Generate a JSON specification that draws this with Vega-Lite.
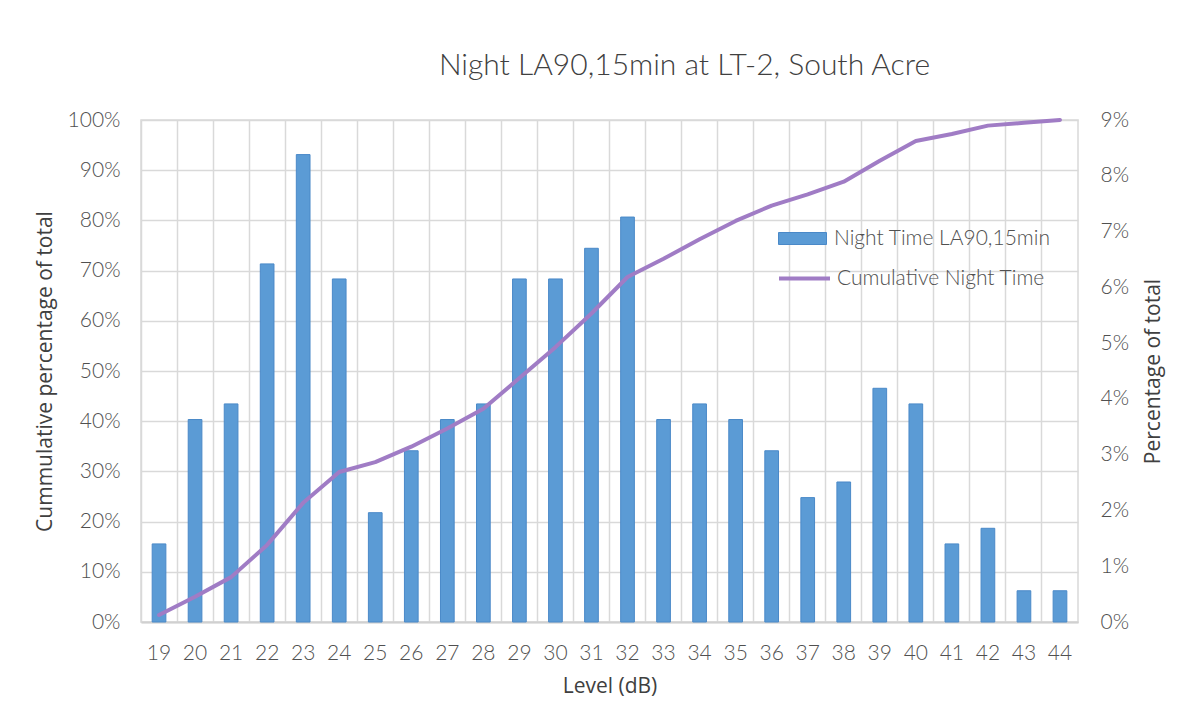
{
  "$schema": "https://vega.github.io/schema/vega-lite/v6.json",
  "autosize": {"type": "none"},
  "width": 937,
  "height": 502,
  "padding": {"left": 141, "top": 120, "right": 124, "bottom": 82},
  "background": "white",
  "title": {
    "text": "Night LA90,15min at LT-2, South Acre",
    "font": "Lato",
    "fontSize": 30,
    "fontWeight": 300,
    "color": "#404040",
    "anchor": "middle",
    "dx": 75,
    "baseline": "alphabetic",
    "offset": 4
  },
  "config": {
    "view": {"stroke": "#d9d9d9", "strokeWidth": 1.5},
    "axis": {
      "labelFont": "Lato",
      "labelFontWeight": 300,
      "labelFontSize": 21,
      "labelColor": "#505050",
      "titleFont": "Open Sans",
      "titleFontWeight": "normal",
      "titleFontSize": 21,
      "titleColor": "#404040",
      "gridColor": "#d9d9d9",
      "gridWidth": 1.5,
      "ticks": false
    },
    "legend": {
      "labelFont": "Lato",
      "labelFontWeight": 300,
      "labelFontSize": 21,
      "labelColor": "#505050",
      "labelLimit": 400,
      "padding": 0
    }
  },
  "data": {
    "values": [
      {"level": 19, "pct": 1.40, "cum": 1.40},
      {"level": 20, "pct": 3.63, "cum": 5.03},
      {"level": 21, "pct": 3.91, "cum": 8.94},
      {"level": 22, "pct": 6.42, "cum": 15.36},
      {"level": 23, "pct": 8.38, "cum": 23.74},
      {"level": 24, "pct": 6.15, "cum": 29.89},
      {"level": 25, "pct": 1.96, "cum": 31.84},
      {"level": 26, "pct": 3.07, "cum": 34.92},
      {"level": 27, "pct": 3.63, "cum": 38.55},
      {"level": 28, "pct": 3.91, "cum": 42.46},
      {"level": 29, "pct": 6.15, "cum": 48.60},
      {"level": 30, "pct": 6.15, "cum": 54.75},
      {"level": 31, "pct": 6.70, "cum": 61.45},
      {"level": 32, "pct": 7.26, "cum": 68.72},
      {"level": 33, "pct": 3.63, "cum": 72.35},
      {"level": 34, "pct": 3.91, "cum": 76.26},
      {"level": 35, "pct": 3.63, "cum": 79.89},
      {"level": 36, "pct": 3.07, "cum": 82.96},
      {"level": 37, "pct": 2.23, "cum": 85.20},
      {"level": 38, "pct": 2.51, "cum": 87.71},
      {"level": 39, "pct": 4.19, "cum": 91.90},
      {"level": 40, "pct": 3.91, "cum": 95.81},
      {"level": 41, "pct": 1.40, "cum": 97.21},
      {"level": 42, "pct": 1.68, "cum": 98.88},
      {"level": 43, "pct": 0.56, "cum": 99.44},
      {"level": 44, "pct": 0.56, "cum": 100.0}
    ]
  },
  "encoding": {
    "x": {
      "field": "level",
      "type": "ordinal",
      "sort": "ascending",
      "scale": {"paddingInner": 0, "paddingOuter": 0},
      "axis": {
        "title": "Level (dB)",
        "labelAngle": 0,
        "bandPosition": 0,
        "labelPadding": 20,
        "titlePadding": 12,
        "grid": true,
        "domainColor": "#d0d0d0",
        "domainWidth": 2
      }
    }
  },
  "layer": [
    {
      "mark": {"type": "bar", "width": {"band": 0.38}, "stroke": "#4a89c8", "strokeWidth": 1},
      "encoding": {
        "y": {
          "field": "pct",
          "type": "quantitative",
          "scale": {"domain": [0, 9], "nice": false},
          "axis": {
            "orient": "right",
            "title": "Percentage of total",
            "titleAngle": 270,
            "values": [0, 1, 2, 3, 4, 5, 6, 7, 8, 9],
            "labelExpr": "datum.value + '%'",
            "grid": false,
            "domain": false,
            "labelPadding": 22,
            "titlePadding": 35
          }
        },
        "fill": {
          "datum": "Night Time LA90,15min",
          "type": "nominal",
          "scale": {"range": ["#5b9bd5"]},
          "legend": {
            "title": null,
            "orient": "none",
            "legendX": 637,
            "legendY": 94,
            "symbolType": "M-1,-0.25H1V0.25H-1Z",
            "symbolSize": 2304,
            "symbolStrokeColor": "#4a89c8",
            "symbolStrokeWidth": 1,
            "labelOffset": 7
          }
        }
      }
    },
    {
      "mark": {"type": "line", "strokeWidth": 4, "strokeJoin": "round", "strokeCap": "round"},
      "encoding": {
        "y": {
          "field": "cum",
          "type": "quantitative",
          "scale": {"domain": [0, 100], "nice": false},
          "axis": {
            "orient": "left",
            "title": "Cummulative percentage of total",
            "values": [0, 10, 20, 30, 40, 50, 60, 70, 80, 90, 100],
            "labelExpr": "datum.value + '%'",
            "grid": true,
            "domain": false,
            "labelPadding": 21,
            "titlePadding": 12
          }
        },
        "stroke": {
          "datum": "Cumulative Night Time",
          "type": "nominal",
          "scale": {"range": ["#a07cc5"]},
          "legend": {
            "title": null,
            "orient": "none",
            "legendX": 636,
            "legendY": 131,
            "symbolType": "stroke",
            "symbolSize": 2601,
            "symbolStrokeWidth": 4,
            "labelOffset": 5
          }
        }
      }
    }
  ],
  "resolve": {"scale": {"y": "independent"}}
}
